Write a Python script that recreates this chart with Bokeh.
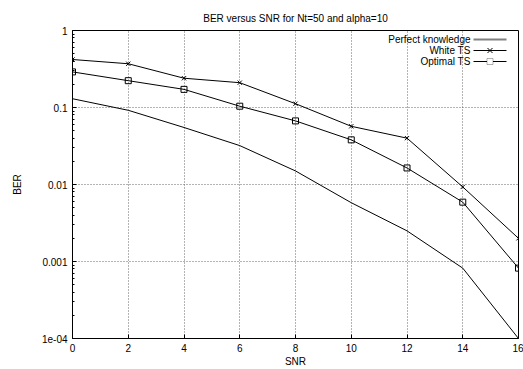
from bokeh.plotting import figure
from bokeh.models import FixedTicker, Label, Arrow, PolyAnnotation
from bokeh.embed import file_html
from bokeh.resources import INLINE

# ---- data ----
snr = [0, 2, 4, 6, 8, 10, 12, 14, 16]
perfect = [0.130, 0.092, 0.055, 0.032, 0.015, 0.0058, 0.0025, 0.00082, 0.0001]
white_ts = [0.42, 0.37, 0.24, 0.21, 0.112, 0.057, 0.040, 0.0093, 0.0020]
optimal_ts = [0.29, 0.223, 0.172, 0.104, 0.067, 0.038, 0.0164, 0.0059, 0.00082]

series_names = ["Perfect knowledge", "White TS", "Optimal TS"]
series_markers = [None, "x", "square"]
x_ticks = [0, 2, 4, 6, 8, 10, 12, 14, 16]
y_ticks = [1e-4, 1e-3, 1e-2, 1e-1, 1]
y_tick_labels = ["1e-04", "0.001", "0.01", "0.1", "1"]

FONT = "Liberation Sans"
FS = "10px"

W, H = 523, 369
ML, MR, MT, MB = 72, 5, 30, 30
FW = W - ML - MR
FH = H - MT - MB

p = figure(width=W, height=H, output_backend="svg", toolbar_location=None,
           y_axis_type="log", x_range=(0, 16), y_range=(1e-4, 1),
           min_border_left=ML, min_border_right=MR, min_border_top=MT,
           min_border_bottom=MB)

p.title.text = "BER versus SNR for Nt=50 and alpha=10"
p.title.align = "center"
p.title.text_font = FONT
p.title.text_font_size = FS
p.title.text_font_style = "normal"
p.title.text_color = "black"
p.title.standoff = 13

minor = [m * 10.0 ** e for e in range(-4, 0) for m in range(2, 10)]
yt = FixedTicker(ticks=y_ticks, minor_ticks=minor)
xt = FixedTicker(ticks=x_ticks)

p.xaxis.ticker = xt
p.yaxis.ticker = yt
p.yaxis.major_label_overrides = {t: l for t, l in zip(y_ticks, y_tick_labels)}

for ax in (p.xaxis[0], p.yaxis[0]):
    ax.major_label_text_font = FONT
    ax.major_label_text_font_size = FS
    ax.major_label_text_color = "black"
    ax.axis_label_text_font = FONT
    ax.axis_label_text_font_size = FS
    ax.axis_label_text_font_style = "normal"
    ax.axis_label_text_color = "black"
    ax.major_tick_out = 0
    ax.major_tick_in = 4
    ax.minor_tick_out = 0
    ax.minor_tick_in = 2
    ax.axis_line_color = "black"
    ax.major_tick_line_color = "black"
    ax.minor_tick_line_color = "black"
    ax.major_label_standoff = 5

p.xaxis.axis_label = "SNR"
p.xaxis.axis_label_standoff = 1
p.yaxis.axis_label = "BER"
p.yaxis.axis_label_standoff = 16

p.xgrid.ticker = xt
p.ygrid.ticker = yt
for g in (p.xgrid[0], p.ygrid[0]):
    g.grid_line_color = "#666666"
    g.grid_line_dash = "1 2"
    g.grid_line_width = 1

p.outline_line_color = "black"
p.outline_line_width = 1
p.background_fill_color = "white"
p.border_fill_color = "white"

p.line(snr, perfect, line_color="black", line_width=1)
p.line(snr, white_ts, line_color="black", line_width=1)
p.scatter(snr, white_ts, marker="x", size=6, line_color="black", line_width=1)
p.line(snr, optimal_ts, line_color="black", line_width=1)
p.scatter(snr, optimal_ts, marker="square", size=6, line_color="black",
          fill_color=None, line_width=1)

# gnuplot-style key: text right-aligned, sample to its right
for i, (name, mk) in enumerate(zip(series_names, series_markers)):
    yc = FH - 10 - 11 * i
    p.add_layout(Label(x=FW - 48, y=yc, x_units="screen", y_units="screen",
                       text=name, text_align="right", text_baseline="middle",
                       text_font=FONT, text_font_size=FS, text_color="black"))
    p.add_layout(Arrow(x_start=FW - 45, x_end=FW - 12, y_start=yc, y_end=yc,
                       start_units="screen", end_units="screen", start=None, end=None,
                       line_color="#808080" if mk is None else "black",
                       line_width=2 if mk is None else 1))
    xm = FW - 28.5
    if mk == "x":
        for d in (1, -1):
            p.add_layout(Arrow(x_start=xm - 2.5, x_end=xm + 2.5, y_start=yc - 2.5 * d,
                               y_end=yc + 2.5 * d, start_units="screen", end_units="screen",
                               start=None, end=None, line_color="black", line_width=1))
    elif mk == "square":
        p.add_layout(PolyAnnotation(xs=[xm - 3, xm + 3, xm + 3, xm - 3],
                                    ys=[yc - 3, yc - 3, yc + 3, yc + 3],
                                    xs_units="screen", ys_units="screen",
                                    fill_color="white", fill_alpha=1,
                                    line_color="black", line_width=1))

open("out.html", "w").write(file_html(p, INLINE))
